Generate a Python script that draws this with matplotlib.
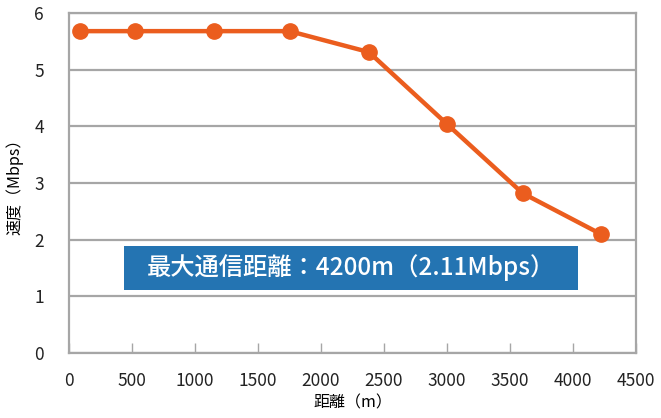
import matplotlib
matplotlib.use('Agg')
import matplotlib.pyplot as plt
from matplotlib.patches import Rectangle

plt.rcParams['font.family'] = ['Noto Sans CJK JP', 'DejaVu Sans']

distance = [90, 520, 1150, 1750, 2380, 3000, 3600, 4220]
speed = [5.68, 5.68, 5.68, 5.68, 5.31, 4.04, 2.82, 2.10]
x_ticks = [0, 500, 1000, 1500, 2000, 2500, 3000, 3500, 4000, 4500]
y_ticks = [0, 1, 2, 3, 4, 5, 6]
note = '最大通信距離：4200m（2.11Mbps）'

ORANGE = '#EB5D1E'
BLUE = '#2474B2'
GRID = '#A6A6A6'

fig = plt.figure(figsize=(6.61, 4.18), dpi=100)
ax = fig.add_axes([69 / 661, 1 - 353 / 418, 567 / 661, 340 / 418])

ax.plot(distance, speed, color=ORANGE, linewidth=3.2, marker='o',
        markersize=11, zorder=3, clip_on=False)

ax.set_xlim(0, 4500)
ax.set_ylim(0, 6)
ax.set_xticks(x_ticks)
ax.set_yticks(y_ticks)
ax.grid(axis='y', color=GRID, linewidth=1.6)
ax.set_axisbelow(True)
for s in ax.spines.values():
    s.set_color(GRID)
    s.set_linewidth(1.6)

ax.tick_params(axis='x', direction='in', length=7, width=1, color=GRID,
               labelsize=12.5, pad=14, labelcolor='#222222')
ax.tick_params(axis='y', length=0, labelsize=12.5, pad=18, labelcolor='#222222')

ax.set_xlabel('距離（m）', fontsize=11.5, labelpad=3)
ax.set_ylabel('速度（Mbps）', fontsize=11.5, labelpad=8)

# annotation box
ax.add_patch(Rectangle((437, 1.11), 3600, 0.78, facecolor=BLUE,
                       edgecolor='none', zorder=4))
ax.text(437 + 1800, 1.50, note, fontsize=17.5, color='white',
        fontweight='medium', va='center', ha='center', zorder=5)

fig.savefig('out.png', dpi=100, facecolor='white')
